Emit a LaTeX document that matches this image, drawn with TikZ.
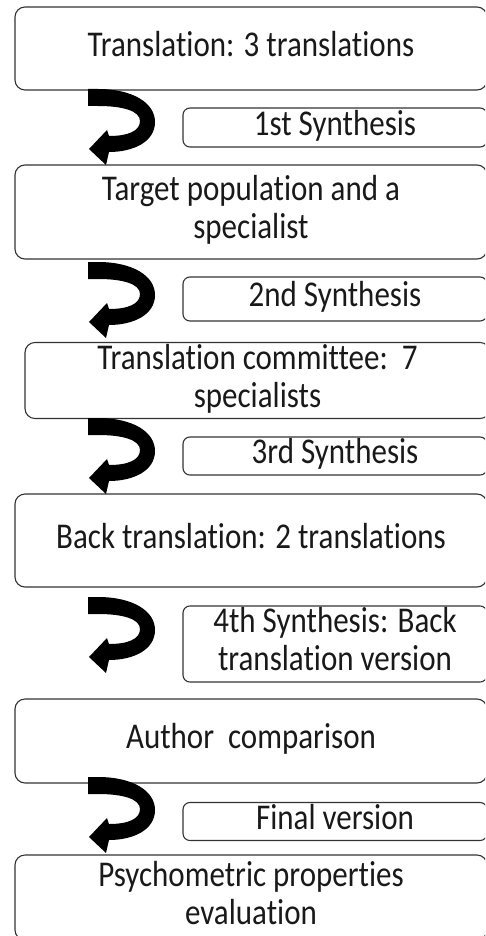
\documentclass[tikz,border=0pt]{standalone}
\usepackage{fontspec}
\setmainfont{Carlito}[Ligatures={NoCommon}]
\usepackage{graphicx}
\newcommand{\vs}[1]{\scalebox{1}[1.17]{\begin{tabular}{@{}c@{}}#1\end{tabular}}}
\tikzset{
  bigbox/.style={draw=black!80, line width=1.1pt, rounded corners=10pt, inner sep=0pt,
    text=black!90, font=\fontsize{31}{32.5}\selectfont},
  synbox/.style={draw=black!80, line width=1.1pt, rounded corners=7pt, inner sep=0pt,
    text=black!90, font=\fontsize{31}{32.5}\selectfont, minimum width=304pt},
  uturn/.pic={
    \fill[black] (0,0) -- (10,0) .. controls (45,0) and (67,14) .. (67,33)
      .. controls (67,53) and (45,63) .. (21,63) -- (18,76) -- (1,60) -- (19,41) -- (21,47)
      .. controls (40,47) and (52,42) .. (52,32) .. controls (52,22) and (35,17) .. (10,17)
      -- (0,17) -- cycle;
  }
}
\begin{document}
\begin{tikzpicture}[x=1pt,y=-1pt]
\useasboundingbox (0,0) rectangle (485,936);
\clip (0,0) rectangle (485,936);
\node[bigbox, minimum width=472pt, minimum height=83pt] (b1) at (251,48.5) {\vs{Translation: 3 translations}};
\node[bigbox, minimum width=472pt, minimum height=94pt] (b2) at (251,212) {\vs{Target population and a\\specialist}};
\node[bigbox, minimum width=465pt, minimum height=75pt] (b3) at (257.5,380.5) {\vs{Translation committee:\ \ 7\\specialists}};
\node[bigbox, minimum width=472pt, minimum height=93pt] (b4) at (251,540.5) {\vs{Back translation: 2 translations}};
\node[bigbox, minimum width=472pt, minimum height=84pt] (b5) at (251,741) {\vs{Author\ \ comparison}};
\node[bigbox, minimum width=472pt, minimum height=85pt] (b6) at (251,897.5) {\vs{Psychometric properties\\evaluation}};
\node[synbox, minimum height=39pt] (s1) at (335,127.5) {\vs{1st Synthesis}};
\node[synbox, minimum height=44pt] (s2) at (335,299) {\vs{2nd Synthesis}};
\node[synbox, minimum height=36pt] (s3) at (335,456) {\vs{3rd Synthesis}};
\node[synbox, minimum height=74pt] (s4) at (335,644) {\vs{4th Synthesis: Back\\translation version}};
\node[synbox, minimum height=37pt] (s5) at (335,821.5) {\vs{Final version}};
\coordinate (t1) at (88,89);
\coordinate (t2) at (88,262);
\coordinate (t3) at (88,418);
\coordinate (t4) at (88,597);
\coordinate (t5) at (88,777);
\pic at (t1) {uturn};
\pic at (t2) {uturn};
\pic at (t3) {uturn};
\pic at (t4) {uturn};
\pic at (t5) {uturn};
\end{tikzpicture}
\end{document}
